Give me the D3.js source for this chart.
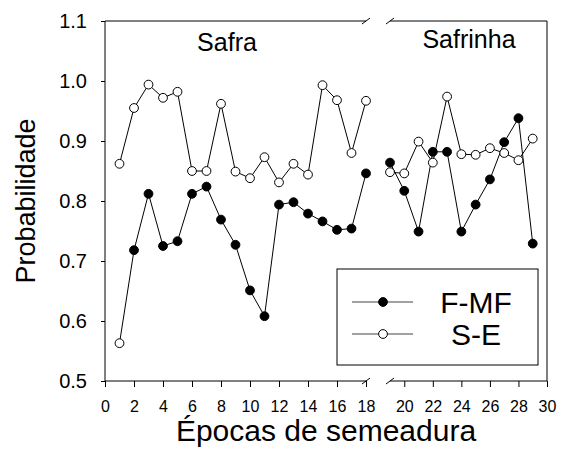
<!DOCTYPE html>
<html>
<head>
<meta charset="utf-8">
<script src="https://cdn.jsdelivr.net/npm/d3@7"></script>
<style>
  body { margin: 0; background: #fff; }
  text { font-family: "Liberation Sans", Arial, sans-serif; fill: #000; }
</style>
</head>
<body>
<div id="chart"></div>
<script>
// épocas de semeadura (dois períodos)
const epocasSafra = [1, 2, 3, 4, 5, 6, 7, 8, 9, 10, 11, 12, 13, 14, 15, 16, 17, 18];
const epocasSafrinha = [19, 20, 21, 22, 23, 24, 25, 26, 27, 28, 29];

// F-MF
const fmfSafra = [0.563, 0.718, 0.812, 0.725, 0.733, 0.812, 0.824, 0.769, 0.727, 0.651, 0.608, 0.794,
    0.798, 0.779, 0.766, 0.752, 0.754, 0.846];
const fmfSafrinha = [0.864, 0.817, 0.749, 0.882, 0.882, 0.749, 0.794, 0.836, 0.898, 0.938, 0.729];

// S-E
const seSafra = [0.862, 0.955, 0.994, 0.972, 0.982, 0.850, 0.850, 0.962, 0.849, 0.838, 0.873, 0.831,
    0.862, 0.844, 0.993, 0.968, 0.880, 0.967];
const seSafrinha = [0.848, 0.846, 0.899, 0.864, 0.974, 0.878, 0.877, 0.888, 0.880, 0.868, 0.904];

const xTicksSafra = [0, 2, 4, 6, 8, 10, 12, 14, 16, 18];
const xTicksSafrinha = [20, 22, 24, 26, 28, 30];
const yTicks = [0.5, 0.6, 0.7, 0.8, 0.9, 1.0, 1.1];

const width = 563;
const height = 450;
const plot = { left: 105, top: 21, right: 547, bottom: 381 };

const x1 = d3.scaleLinear().domain([0, 18]).range([plot.left, 366]);
const x2 = d3.scaleLinear().domain([19, 30]).range([390, plot.right]);
const y = d3.scaleLinear().domain([0.5, 1.1]).range([plot.bottom, plot.top]);

const svg = d3.select('#chart')
    .append('svg')
    .attr('width', width)
    .attr('height', height);

// eixo y
const yAxis = d3.axisLeft(y)
    .tickValues(yTicks)
    .tickFormat(d3.format('.1f'))
    .tickSize(4)
    .tickPadding(14);

svg.append('g')
    .attr('transform', 'translate(' + plot.left + ',0)')
    .call(yAxis)
    .call(g => g.select('.domain').remove())
    .call(g => g.selectAll('text').style('font-size', '20px'));

svg.append('line')
    .attr('x1', plot.left).attr('x2', plot.left)
    .attr('y1', plot.top).attr('y2', plot.bottom)
    .attr('stroke', '#000');

// eixo x com quebra
function xAxisPart(scale, ticks) {
    const axis = d3.axisBottom(scale)
        .tickValues(ticks)
        .tickSize(6)
        .tickPadding(14);
    svg.append('g')
        .attr('transform', 'translate(0,' + plot.bottom + ')')
        .call(axis)
        .call(g => g.select('.domain').remove())
        .call(g => g.selectAll('text').style('font-size', '16px'));
}
xAxisPart(x1, xTicksSafra);
xAxisPart(x2, xTicksSafrinha);

// linhas de borda (inferior e superior) com a marca de quebra
[plot.bottom, plot.top].forEach(function(yy) {
    svg.append('line')
        .attr('x1', plot.left).attr('x2', 366)
        .attr('y1', yy).attr('y2', yy)
        .attr('stroke', '#000');
    svg.append('line')
        .attr('x1', 390).attr('x2', plot.right)
        .attr('y1', yy).attr('y2', yy)
        .attr('stroke', '#000');
    [366, 390].forEach(function(bx) {
        svg.append('line')
            .attr('x1', bx - 4).attr('x2', bx + 4)
            .attr('y1', yy + 3).attr('y2', yy - 3)
            .attr('stroke', '#000');
    });
});

svg.append('line')
    .attr('x1', plot.right).attr('x2', plot.right)
    .attr('y1', plot.top).attr('y2', plot.bottom)
    .attr('stroke', '#000');

// séries
function drawSeries(xs, vals, scale, filled, hollowFirst) {
    const data = xs.map(function(d, i) { return [d, vals[i]]; });
    const line = d3.line()
        .x(function(d) { return scale(d[0]); })
        .y(function(d) { return y(d[1]); });
    svg.append('path')
        .attr('d', line(data))
        .attr('fill', 'none')
        .attr('stroke', '#000')
        .attr('stroke-width', 1);
    svg.append('g')
        .selectAll('circle')
        .data(data)
        .enter()
        .append('circle')
        .attr('cx', function(d) { return scale(d[0]); })
        .attr('cy', function(d) { return y(d[1]); })
        .attr('r', 4.4)
        .attr('stroke', '#000')
        .attr('stroke-width', 1)
        .attr('fill', function(d, i) {
            // no original o primeiro ponto de F-MF aparece vazado
            if (hollowFirst && i === 0) return '#fff';
            return filled ? '#000' : '#fff';
        });
}

drawSeries(epocasSafra, fmfSafra, x1, true, true);
drawSeries(epocasSafrinha, fmfSafrinha, x2, true, false);
drawSeries(epocasSafra, seSafra, x1, false, false);
drawSeries(epocasSafrinha, seSafrinha, x2, false, false);

// rótulos
svg.append('text')
    .attr('x', 227).attr('y', 51)
    .attr('text-anchor', 'middle')
    .style('font-size', '25px')
    .text('Safra');

svg.append('text')
    .attr('x', 469).attr('y', 48)
    .attr('text-anchor', 'middle')
    .style('font-size', '25px')
    .text('Safrinha');

svg.append('text')
    .attr('x', 326).attr('y', 441)
    .attr('text-anchor', 'middle')
    .style('font-size', '30px')
    .text('Épocas de semeadura');

svg.append('text')
    .attr('transform', 'translate(35,201) rotate(-90)')
    .attr('text-anchor', 'middle')
    .style('font-size', '27px')
    .text('Probabilidade');

// legenda
const legend = svg.append('g');
legend.append('rect')
    .attr('x', 337).attr('y', 269)
    .attr('width', 201).attr('height', 96)
    .attr('fill', '#fff')
    .attr('stroke', '#000');

const legendItems = [
    { label: 'F-MF', filled: true, yy: 302 },
    { label: 'S-E', filled: false, yy: 334 }
];
legendItems.forEach(function(item) {
    legend.append('line')
        .attr('x1', 352).attr('x2', 413)
        .attr('y1', item.yy).attr('y2', item.yy)
        .attr('stroke', '#444');
    legend.append('circle')
        .attr('cx', 383).attr('cy', item.yy)
        .attr('r', 4.4)
        .attr('stroke', '#000')
        .attr('fill', item.filled ? '#000' : '#fff');
    legend.append('text')
        .attr('x', 476).attr('y', item.yy + 11)
        .attr('text-anchor', 'middle')
        .style('font-size', '30px')
        .text(item.label);
});
</script>
</body>
</html>
